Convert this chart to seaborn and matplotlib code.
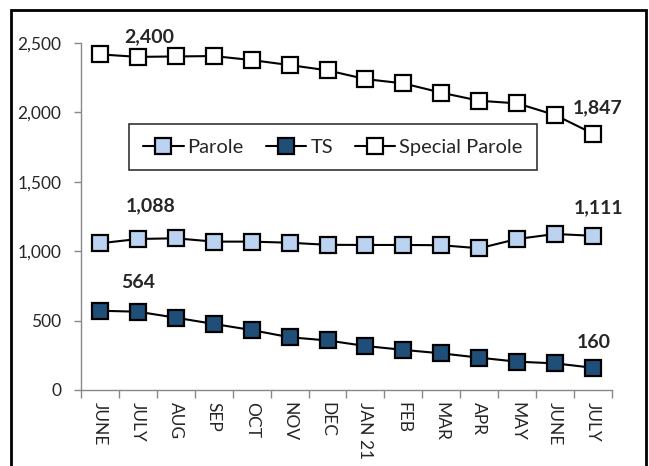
import seaborn as sns
import matplotlib.pyplot as plt
from matplotlib.patches import Rectangle
import pandas as pd

months = ['JUNE', 'JULY', 'AUG', 'SEP', 'OCT', 'NOV', 'DEC',
          'JAN 21', 'FEB', 'MAR', 'APR', 'MAY', 'JUNE', 'JULY']
parole = [1057, 1088, 1093, 1069, 1069, 1061, 1046,
          1045, 1045, 1043, 1021, 1088, 1124, 1111]
ts = [571, 564, 521, 476, 432, 380, 357,
      317, 289, 264, 233, 204, 192, 160]
special_parole = [2418, 2400, 2403, 2406, 2377, 2341, 2303,
                  2240, 2209, 2142, 2084, 2065, 1981, 1847]

series_names = ['Parole', 'TS', 'Special Parole']
fills = ['#BBD3F0', '#1F4E79', '#FFFFFF']

# (series, month index, label, offset in pixels)
labels = [
    ('Special Parole', 1, '2,400', (11, 20)),
    ('Special Parole', 13, '1,847', (5, 26)),
    ('Parole', 1, '1,088', (13, 33)),
    ('Parole', 13, '1,111', (6, 28)),
    ('TS', 1, '564', (0, 29)),
    ('TS', 13, '160', (1, 25)),
]

df = pd.DataFrame({
    'pos': list(range(len(months))) * 3,
    'value': parole + ts + special_parole,
    'series': [s for s in series_names for _ in months],
})

sns.set_style('white')
plt.rcParams['font.family'] = ['Lato', 'DejaVu Sans']

fig = plt.figure(figsize=(6.49, 4.66), dpi=100)
ax = fig.add_axes([81 / 649, 1 - 390 / 466, 531 / 649, 347 / 466])

for name, fill in zip(series_names, fills):
    sub = df[df['series'] == name]
    sns.lineplot(data=sub, x='pos', y='value', ax=ax, color='black',
                 linewidth=1.5, marker='s', markersize=11,
                 markerfacecolor=fill, markeredgecolor='black',
                 markeredgewidth=1.6, label=name)

for name, i, text, off in labels:
    vals = df[(df['series'] == name) & (df['pos'] == i)]['value'].iloc[0]
    ax.annotate(text, (i, vals), xytext=off, textcoords='offset pixels',
                ha='center', va='center', fontsize=14, fontweight='bold')

ax.set_xlim(-0.5, len(months) - 0.5)
ax.set_ylim(0, 2500)
ax.set_yticks([0, 500, 1000, 1500, 2000, 2500])
ax.set_yticklabels(['0', '500', '1,000', '1,500', '2,000', '2,500'], fontsize=12.5)
ax.set_xticks(range(len(months)))
ax.set_xticklabels(months, rotation=-90, fontsize=12.5)
ax.set_xticks([i - 0.5 for i in range(len(months) + 1)], minor=True)
ax.tick_params(axis='x', which='major', length=0, pad=9)
ax.tick_params(axis='x', which='minor', length=6, color='#888888', width=1,
               direction='out', bottom=True)
ax.tick_params(axis='y', length=5, color='#888888', width=1, direction='out',
               left=True, pad=9)
ax.set_xlabel('')
ax.set_ylabel('')
for side in ['top', 'right']:
    ax.spines[side].set_visible(False)
for side in ['left', 'bottom']:
    ax.spines[side].set_color('#888888')
    ax.spines[side].set_linewidth(1)

leg = ax.legend(loc='center', bbox_to_anchor=(0.4746, 0.70), ncol=3,
                fontsize=14.5, frameon=True, fancybox=False,
                handlelength=2.0, handletextpad=0.2, columnspacing=1.1,
                borderpad=0.7, borderaxespad=0)
leg.get_frame().set_edgecolor('black')
leg.get_frame().set_linewidth(1.2)

fig.patches.append(Rectangle((11 / 649, -0.05), 635 / 649, 1.05 - 10 / 466,
                             transform=fig.transFigure, fill=False,
                             edgecolor='black', linewidth=2))

fig.savefig('out.png', dpi=100)
